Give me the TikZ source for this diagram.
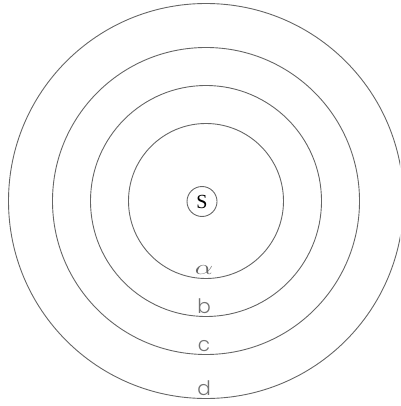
\documentclass[tikz,border=0pt]{standalone}
\usepackage{fontspec}
\setmainfont{Liberation Serif}
\newfontfamily\lblfont{Poppins Light}
\usepackage{graphicx}
\begin{document}
\begin{tikzpicture}[x=1pt,y=-1pt,
  ring/.style={draw=black!60,line width=0.9pt},
  lbl/.style={anchor=base,inner sep=0pt,text=black!55,font=\lblfont\fontsize{20}{20}\selectfont}]
\useasboundingbox (0,0) rectangle (400,406);
\begin{scope}
\clip (0,0) rectangle (400,406);
\coordinate (o) at (206,201);
\draw[ring] (o) circle[radius=77.5];
\draw[ring] (o) circle[radius=115.5];
\draw[ring] (o) circle[radius=153.5];
\draw[ring] (o) circle[radius=197.5];
\end{scope}
\node[circle,draw=black!60,line width=0.9pt,minimum size=30pt,inner sep=0pt,font=\fontsize{20}{20}\selectfont] (s) at (202,201.5) {S};
\node[anchor=base,inner sep=0pt,text=black!60,font=\fontsize{20}{20}\selectfont] (a) at (204,274) {\scalebox{1.4}[1.0]{$\alpha$}};
\node[lbl] (b) at (204,313) {b};
\node[lbl] (c) at (204,351) {c};
\node[lbl] (d) at (204,395) {d};
\end{tikzpicture}
\end{document}
